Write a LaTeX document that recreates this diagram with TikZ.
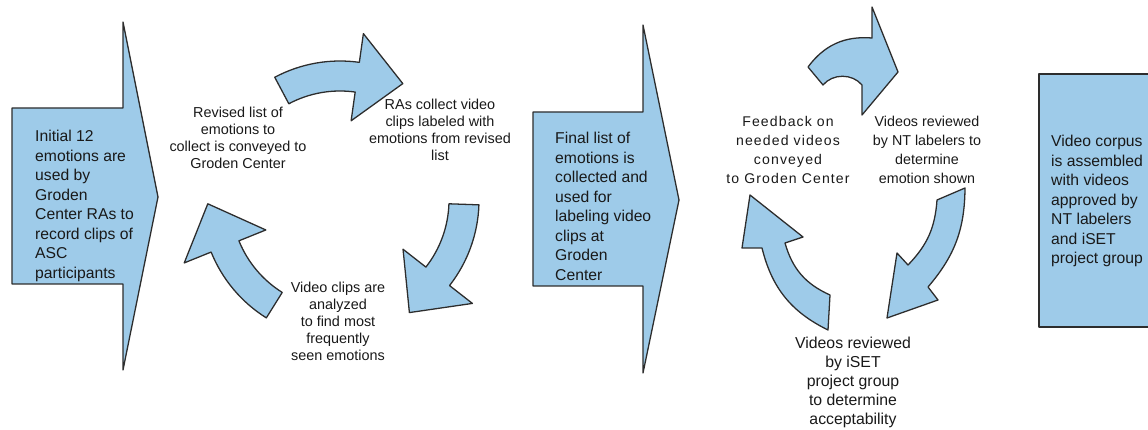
\documentclass[tikz,border=0pt]{standalone}
\usepackage{fontspec}
\setmainfont{Liberation Sans}
\newfontfamily\spacedfont[LetterSpace=8]{Liberation Sans}
\usepackage{tikz}
\usetikzlibrary{positioning, calc}
\definecolor{arrowblue}{RGB}{158, 203, 233}
\definecolor{edgegray}{RGB}{45, 45, 45}
\definecolor{textgray}{RGB}{25, 25, 25}
\tikzset{
  blueshape/.style={fill=arrowblue, draw=edgegray, line width=1.1pt, line join=round},
  steptext/.style={font=\fontsize{13.4}{16.7}\selectfont, text=textgray,
              align=left, inner sep=0pt, anchor=north west},
  cycletext/.style={font=\fontsize{12.3}{14.5}\selectfont, text=textgray,
              align=center, inner sep=0pt},
  reviewtext/.style={cycletext, font=\fontsize{12.2}{16.2}\selectfont},
}
% curved cycle arrow: #1 = tail angle, #2 = angle where the head starts
\newcommand{\cyclearrow}[2]{%
  \filldraw[blueshape] (#1:139) arc[start angle=#1, end angle=#2, radius=139]
    -- (#2:168) -- ($(#2:124)+(#2-90:46)$) -- (#2:80) -- (#2:109)
    arc[start angle=#2, end angle=#1, radius=109] -- cycle;}

\begin{document}
\begin{tikzpicture}[x=0.03cm, y=0.03cm]
  \useasboundingbox (0,0) rectangle (1148,430);

  % step arrows and final box
  \filldraw[blueshape] (12,322) -- (123,322) -- (123,408) -- (158,233)
        -- (123,60) -- (123,146) -- (12,146) -- cycle;
  \filldraw[blueshape] (533,318) -- (643,318) -- (643,405) -- (679,230)
        -- (643,57) -- (643,144) -- (533,144) -- cycle;
  \filldraw[blueshape] (1039,103) rectangle (1150,356);

  \node[steptext] (initial) at (35,300)
        {Initial 12\\emotions are\\used by\\Groden\\Center RAs to\\record clips of\\ASC\\participants};
  \node[steptext] (finallist) at (555,298)
        {Final list of\\emotions is\\collected and\\used for\\labeling video\\clips at\\Groden\\Center};
  \node[steptext] (corpus) at (1051,295)
        {Video corpus\\is assembled\\with videos\\approved by\\NT labelers\\and iSET\\project group};

  % first cycle
  \begin{scope}[shift={(340,230)}]
    \foreach \s/\b in {118/82, -2/-38, 238/202}
      \cyclearrow{\s}{\b};
  \end{scope}
  \node[cycletext] (revised) at (238,292)
        {Revised list of\\emotions to\\collect is conveyed to\\Groden Center};
  \node[cycletext] (collect) at (440,300)
        {RAs collect video\\clips labeled with\\emotions from revised\\list};
  \node[cycletext] (analyzed) at (338,109)
        {Video clips are\\analyzed\\to find most\\frequently\\seen emotions};

  % second cycle
  \filldraw[blueshape] (808,363) to[bend left=29] (872,392) -- (872,423) -- (898,358)
        -- (862,315) -- (862,345) to[bend right=50] (823,345) -- cycle;
  \filldraw[blueshape] (937,230) to[bend left=20] (908,165) -- (897,177) -- (887,112)
        -- (938,130) -- (928,143) to[bend right=20] (965,242) -- cycle;
  \filldraw[blueshape] (828,100) to[bend left=25] (762,182) -- (742,182) -- (750,235)
        -- (803,193) -- (785,187) to[bend right=25] (830,135) -- cycle;
  \node[reviewtext, font=\spacedfont\fontsize{12}{16.2}\selectfont] (feedback) at (788,280)
        {Feedback on\\needed videos\\conveyed\\to Groden Center};
  \node[reviewtext] (ntreview) at (927,280)
        {Videos reviewed\\by NT labelers to\\determine\\emotion shown};
  \node[reviewtext, font=\fontsize{13.5}{16.2}\selectfont] (isetreview) at (853,48)
        {Videos reviewed\\by iSET\\project group\\to determine\\acceptability};
\end{tikzpicture}
\end{document}
